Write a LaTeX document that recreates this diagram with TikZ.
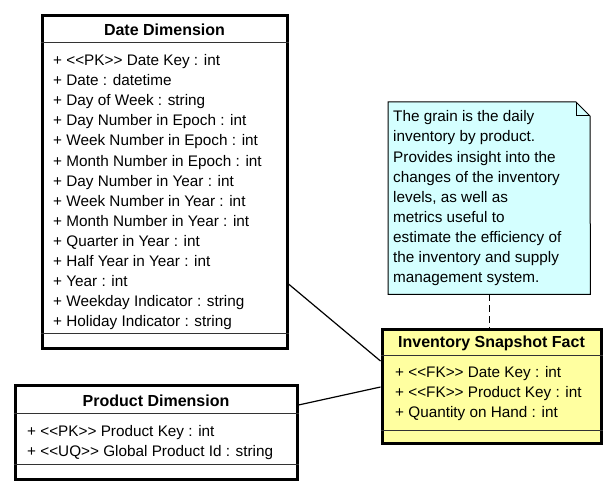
\documentclass[tikz,border=0pt]{standalone}
\usepackage{fontspec}
\usepackage{xcolor}
\newfontfamily\umlfont{Liberation Sans}
\definecolor{factfill}{RGB}{255,255,160}
\definecolor{notefill}{RGB}{212,255,255}

\begin{document}
\begin{tikzpicture}[x=1pt,y=-1pt,
        font=\umlfont\fontsize{15.3}{20}\selectfont,
        classbox/.style={draw, line width=3pt, anchor=north west, inner sep=0pt},
        classname/.style={font=\umlfont\bfseries\fontsize{16}{20}\selectfont, anchor=base, inner sep=0pt},
        attr/.style={anchor=base west, inner sep=0pt},
        sep/.style={black!80, line width=1pt},
        link/.style={line width=1.2pt}]
        \useasboundingbox (0,0) rectangle (610,492);

        % date dimension
        \node[classbox, minimum width=245, minimum height=332] (date) at (40.5,14.5) {};
        \node[classname] (date-name) at (date.north |- 0,36) {Date Dimension};
        \draw[sep] (date.west |- 0,43) -- (date.east |- 0,43);
        \draw[sep] (date.west |- 0,333) -- (date.east |- 0,333);
        \foreach \a [count=\i from 0] in {+ <<PK>> Date Key : int, + Date : datetime,
            + Day of Week : string, + Day Number in Epoch : int, + Week Number in Epoch : int,
            + Month Number in Epoch : int, + Day Number in Year : int, + Week Number in Year : int,
            + Month Number in Year : int, + Quarter in Year : int, + Half Year in Year : int,
            + Year : int, + Weekday Indicator : string, + Holiday Indicator : string}
            \node[attr] (date-a\i) at (53,66+20*\i) {\a};

        % product dimension
        \node[classbox, minimum width=282, minimum height=94] (prod) at (13.5,383.5) {};
        \node[classname] (prod-name) at (prod.north |- 0,406) {Product Dimension};
        \draw[sep] (prod.west |- 0,413) -- (prod.east |- 0,413);
        \draw[sep] (prod.west |- 0,464) -- (prod.east |- 0,464);
        \node[attr] (prod-a0) at (27,436) {+ <<PK>> Product Key : int};
        \node[attr] (prod-a1) at (27,456) {+ <<UQ>> Global Product Id : string};

        % fact
        \node[classbox, fill=factfill, minimum width=219, minimum height=114] (fact) at (380.5,327.5) {};
        \node[classname] (fact-name) at (fact.north |- 0,347) {Inventory Snapshot Fact};
        \draw[sep] (fact.west |- 0,355) -- (fact.east |- 0,355);
        \draw[sep] (fact.west |- 0,430) -- (fact.east |- 0,430);
        \node[attr] (fact-a0) at (395,377) {+ <<FK>> Date Key : int};
        \node[attr] (fact-a1) at (395,397) {+ <<FK>> Product Key : int};
        \node[attr] (fact-a2) at (395,417) {+ Quantity on Hand : int};

        % note
        \node[anchor=north west, inner sep=0pt, minimum width=202, minimum height=192] (note) at (388,102) {};
        \filldraw[fill=notefill, line width=1pt] (note.north west) -- (576,102) -- (590,116)
            -- (note.south east) -- (note.south west) -- cycle;
        \draw[line width=1pt] (576,102) -- (576,116) -- (590,116);
        \foreach \t [count=\i from 0] in {The grain is the daily, inventory by product.,
            Provides insight into the, changes of the inventory, {levels, as well as},
            metrics useful to, estimate the efficiency of, the inventory and supply,
            management system.}
            \node[attr] (note-l\i) at (393,122+20*\i) {\t};

        \draw[link, dash pattern=on 7pt off 4pt] (note.south) -- (note.south |- fact.north);
        \draw[link] (date.east |- 0,284) -- (fact.west |- 0,361);
        \draw[link] (prod.east |- 0,405) -- (fact.west |- 0,387);
\end{tikzpicture}
\end{document}
